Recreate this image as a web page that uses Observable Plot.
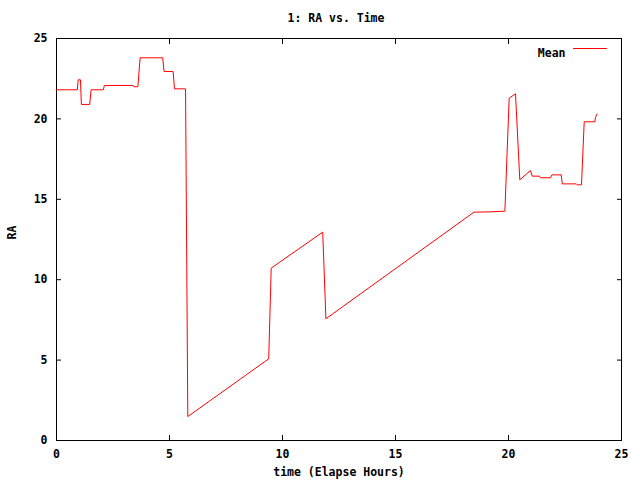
<!DOCTYPE html>
<html>
<head>
<meta charset="utf-8">
<script src="https://cdn.jsdelivr.net/npm/d3@7"></script>
<script src="https://cdn.jsdelivr.net/npm/@observablehq/plot@0.6"></script>
<style>
  html, body { margin: 0; padding: 0; background: #fff; }
  #chart { width: 640px; height: 480px; position: relative; }
  .title { position: absolute; left: 0; width: 672px; top: 11px; text-align: center;
    font: bold 11.5px "DejaVu Sans Mono", monospace; color: #000; }
</style>
</head>
<body>
<div id="chart"><div class="title"></div></div>
<script>
const time = [0, 0.92, 0.96, 1.06, 1.10, 1.47, 1.53, 2.07, 2.12, 3.39, 3.42, 3.6, 3.7, 4.7, 4.76, 5.16, 5.22, 5.71, 5.81, 9.39, 9.5, 11.78, 11.92, 18.47, 19.2, 19.84, 20.03, 20.31, 20.5, 20.97, 21.05, 21.37, 21.42, 21.86, 21.92, 22.33, 22.38, 23.0, 23.04, 23.23, 23.35, 23.82, 23.85, 23.92];
const ra   = [21.81, 21.81, 22.43, 22.43, 20.9, 20.9, 21.81, 21.81, 22.08, 22.08, 22.0, 22.0, 23.8, 23.8, 22.95, 22.95, 21.87, 21.87, 1.49, 5.08, 10.72, 12.96, 7.57, 14.2, 14.22, 14.26, 21.29, 21.56, 16.21, 16.79, 16.44, 16.44, 16.34, 16.34, 16.52, 16.52, 15.96, 15.96, 15.9, 15.9, 19.82, 19.82, 20.1, 20.3];
const xTicks = [0, 5, 10, 15, 20, 25];
const yTicks = [0, 5, 10, 15, 20, 25];
const seriesName = "Mean";
const title = "1: RA vs. Time";
const xLabel = "time (Elapse Hours)";
const yLabel = "RA";

const data = time.map((t, i) => ({time: t, ra: ra[i]}));
const font = "bold 11.5px 'DejaVu Sans Mono', monospace";

const chart = Plot.plot({
  width: 640,
  height: 480,
  marginLeft: 56,
  marginRight: 19,
  marginTop: 38,
  marginBottom: 40,
  style: {font, color: "#000", background: "#fff"},
  x: {domain: [0, 25]},
  y: {domain: [0, 25]},
  marks: [
    Plot.frame({stroke: "#000"}),
    Plot.axisX(xTicks, {anchor: "bottom", tickSize: -5, tickPadding: 14, label: null, fontWeight: "bold"}),
    Plot.axisX(xTicks, {anchor: "top", tickSize: -5, tickFormat: () => "", label: null}),
    Plot.axisY(yTicks, {anchor: "left", tickSize: -5, tickPadding: 14, label: null, fontWeight: "bold"}),
    Plot.axisY(yTicks, {anchor: "right", tickSize: -5, tickFormat: () => "", label: null}),
    Plot.text([xLabel], {frameAnchor: "bottom", dy: 35, fontWeight: "bold"}),
    Plot.text([yLabel], {frameAnchor: "left", dx: -44, rotate: -90, fontWeight: "bold"}),
    Plot.line(data, {x: "time", y: "ra", stroke: "#ff0000", strokeWidth: 1}),
    Plot.text([seriesName], {frameAnchor: "top-right", dx: -56, dy: 10, textAnchor: "end", fontWeight: "bold"}),
    Plot.vector([seriesName], {frameAnchor: "top-right", dx: -48, dy: 10, length: 33, rotate: 90, anchor: "start", stroke: "#ff0000", strokeWidth: 1,
      shape: {draw(ctx, l) { ctx.moveTo(0, 0); ctx.lineTo(0, -l); }}})
  ]
});
document.querySelector(".title").textContent = title;
document.getElementById("chart").appendChild(chart);
</script>
</body>
</html>
